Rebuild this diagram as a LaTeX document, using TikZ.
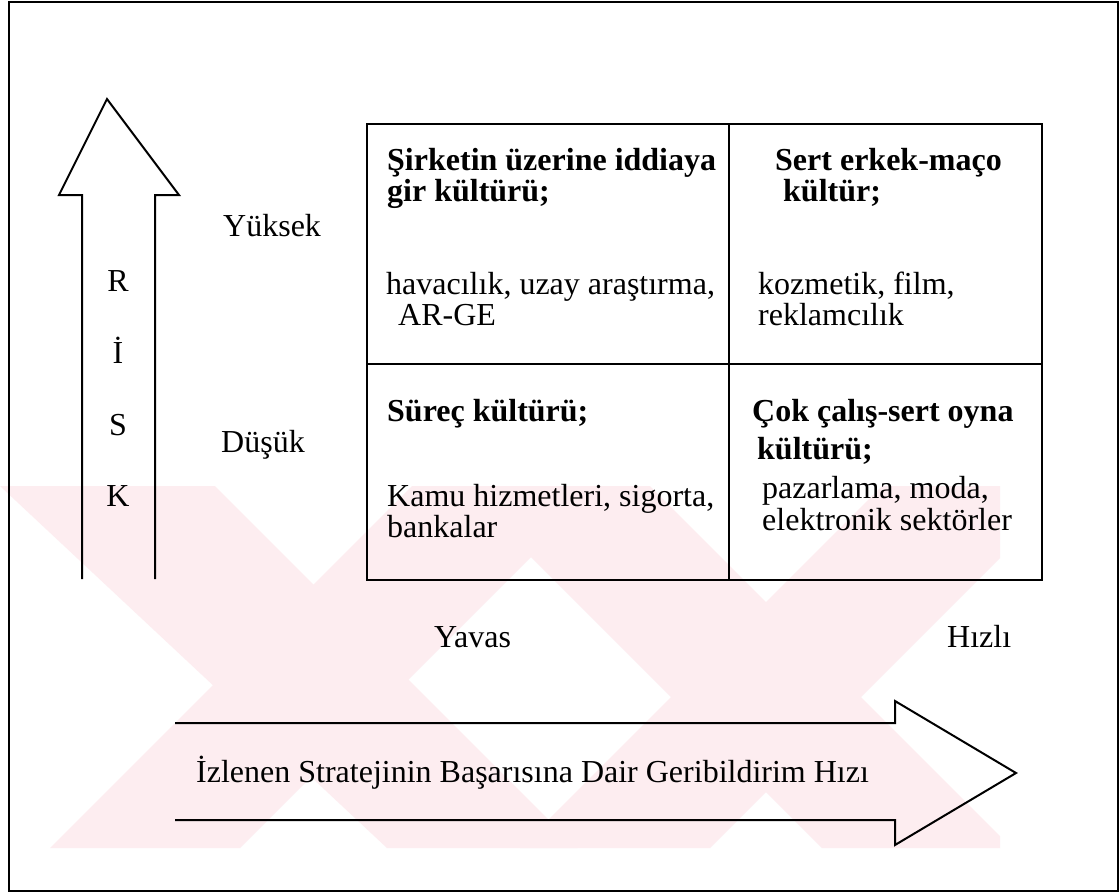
\documentclass[tikz,border=0pt]{standalone}
\usepackage{fontspec}
\setmainfont{Liberation Serif}
\definecolor{wmpink}{RGB}{253,237,240}
\begin{document}
\begin{tikzpicture}[x=1pt,y=-1pt,
  txt/.style={anchor=base west,inner sep=0pt,font=\fontsize{32}{33}\selectfont},
  hdr/.style={txt,font=\fontsize{32}{33}\selectfont\bfseries},
  letter/.style={anchor=base,inner sep=0pt,font=\fontsize{32}{33}\selectfont},
  rule/.style={line width=2pt,line join=miter},
  band/.style={fill=wmpink,draw=none}]
\useasboundingbox (0,0) rectangle (1120,895);
\fill[white] (0,0) rectangle (1120,895);

% pale background emblem behind the lower half
\begin{scope}
  \clip (0,486) rectangle (1000,848);
  \fill[band] (0,486) -- (215,486) -- (577,848) -- (387,848) -- cycle;
  \fill[band] (50,848) -- (240,848) -- (602,486) -- (412,486) -- cycle;
  \fill[band] (460,486) -- (650,486) -- (1012,848) -- (822,848) -- cycle;
  \fill[band] (520,848) -- (710,848) -- (1072,486) -- (882,486) -- cycle;
\end{scope}

% outer frame
\draw[rule] (9,2) rectangle (1118,891);

% risk arrow (open at the foot)
\coordinate (rb1) at (82,579);
\coordinate (rb2) at (155,579);
\draw[rule] (rb1) -- (82,195) -- (59,195) -- (107,99) -- (179,195) -- (155,195) -- (rb2);

% vertical label inside the arrow
\node[letter] (r1) at (118,291) {R};
\node[letter] (r2) at (118,363) {İ};
\node[letter] (r3) at (118,435) {S};
\node[letter] (r4) at (118,506) {K};

% risk levels
\node[txt] (yuksek) at (223,236) {Yüksek};
\node[txt] (dusuk) at (221,452) {Düşük};

% the four-cell table
\draw[rule] (367,124) rectangle (1042,580);
\draw[rule] (729,124) -- (729,580);
\draw[rule] (367,364) -- (1042,364);

% upper left cell
\node[hdr] (a1) at (387,170) {Şirketin üzerine iddiaya};
\node[hdr] (a2) at (387,201) {gir kültürü;};
\node[txt] (a3) at (386,294) {havacılık, uzay araştırma,};
\node[txt] (a4) at (398,325) {AR-GE};

% upper right cell
\node[hdr] (b1) at (775,170) {Sert erkek-maço};
\node[hdr] (b2) at (783,201) {kültür;};
\node[txt] (b3) at (758,294) {kozmetik, film,};
\node[txt] (b4) at (758,325) {reklamcılık};

% lower left cell
\node[hdr] (c1) at (387,421) {Süreç kültürü;};
\node[txt] (c2) at (387,506) {Kamu hizmetleri, sigorta,};
\node[txt] (c3) at (387,537) {bankalar};

% lower right cell
\node[hdr] (d1) at (752,421) {Çok çalış-sert oyna};
\node[hdr] (d2) at (757,459) {kültürü;};
\node[txt] (d3) at (762,498) {pazarlama, moda,};
\node[txt] (d4) at (762,530) {elektronik sektörler};

% speed levels
\node[txt] (yavas) at (434,647) {Yavas};
\node[txt] (hizli) at (947,647) {Hızlı};

% feedback-speed arrow (open at the tail)
\coordinate (fb1) at (175,723);
\coordinate (fb2) at (175,820);
\draw[rule] (fb1) -- (895,723) -- (895,701) -- (1016,773) -- (895,845) -- (895,820) -- (fb2);
\node[txt] (feedback) at (196,782) {İzlenen Stratejinin Başarısına Dair Geribildirim Hızı};
\end{tikzpicture}
\end{document}
